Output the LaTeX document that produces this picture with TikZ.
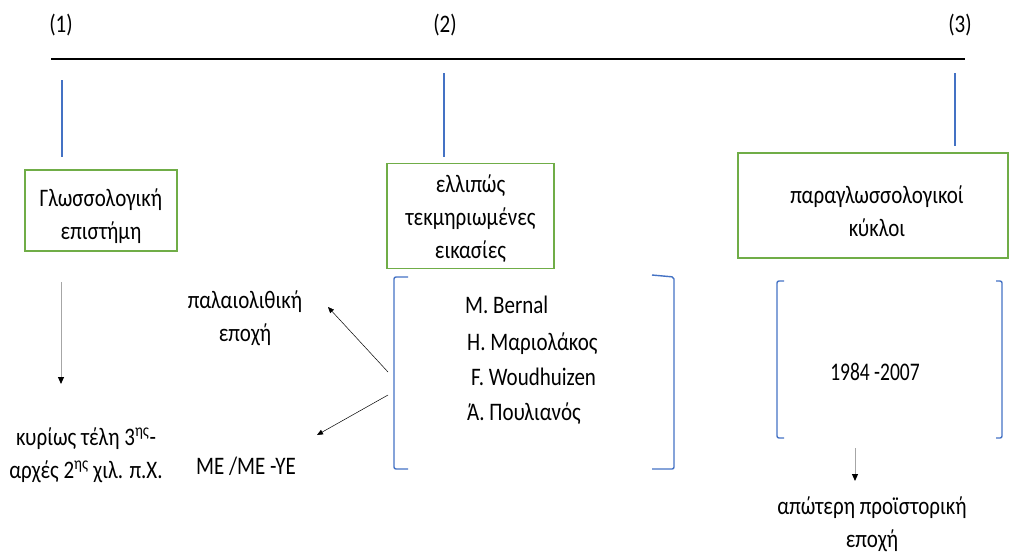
\documentclass[tikz,border=0pt]{standalone}
\usepackage{fontspec}
\usepackage{graphicx}
\setmainfont{Carlito}
\usetikzlibrary{arrows.meta}
\definecolor{oblue}{RGB}{68,114,196}
\definecolor{ogreen}{RGB}{112,173,71}
\newcommand{\stx}[1]{\scalebox{1}[1.2]{\begin{tabular}{@{}c@{}}#1\end{tabular}}}
\begin{document}
\begin{tikzpicture}[x=1pt,y=-1pt,
  every node/.style={inner sep=0pt,font=\fontsize{21}{27.6}\selectfont},
  gbox/.style={draw=ogreen,line width=1.6pt},
  tick/.style={draw=oblue,line width=1.2pt},
  brk/.style={draw=oblue,line width=1.4pt,rounded corners=2pt},
  arr/.style={draw=black,line width=0.5pt,-{Triangle[length=6pt,width=5pt]}},
  garr/.style={draw=gray!70,line width=1pt,-{Triangle[length=7pt,width=6pt,color=black]}}]
\useasboundingbox (0,0) rectangle (1011,557);
% labels
\node (l1) at (61,26) {\stx{(1)}};
\node (l2) at (445,26) {\stx{(2)}};
\node (l3) at (960,26) {\stx{(3)}};
% axis
\coordinate (a0) at (51,59);
\coordinate (a1) at (965,59);
\draw[line width=2pt] (a0) -- (a1);
% ticks
\coordinate (t1a) at (62,80); \coordinate (t1b) at (62,157);
\coordinate (t2a) at (444,73); \coordinate (t2b) at (444,157);
\coordinate (t3a) at (955,73); \coordinate (t3b) at (955,146);
\draw[tick] (t1a) -- (t1b);
\draw[tick] (t2a) -- (t2b);
\draw[tick] (t3a) -- (t3b);
% boxes
\node[gbox,minimum width=152pt,minimum height=81pt] (b1) at (101,210.5) {};
\node (b1t) at (101,216) {\stx{Γλωσσολογική\\επιστήμη}};
\node[gbox,minimum width=167pt,minimum height=105pt] (b2) at (470.5,216) {};
\node (b2t) at (470.5,218.5) {\stx{ελλιπώς\\τεκμηριωμένες\\εικασίες}};
\node[gbox,minimum width=270pt,minimum height=105pt] (b3) at (873,205.5) {};
\node (b3t) at (877,213) {\stx{παραγλωσσολογικοί\\κύκλοι}};
% middle brackets
\draw[brk] (408,277) -- (394,277) -- (394,469) -- (408,469);
\draw[brk] (652,275) -- (674,277) -- (674,469) -- (652,469);
\node[anchor=west] (n1) at (465,307) {\stx{M. Bernal}};
\node[anchor=west] (n2) at (467,344) {\stx{Η. Μαριολάκος}};
\node[anchor=west] (n3) at (471,379) {\stx{F. Woudhuizen}};
\node[anchor=west] (n4) at (467,414) {\stx{Ά. Πουλιανός}};
% right brackets
\draw[brk] (784,281) -- (777,281) -- (777,438) -- (784,438);
\draw[brk] (996,281) -- (1002,281) -- (1002,438) -- (996,438);
\node[font=\fontsize{19.5}{29.5}\selectfont] (yr) at (875,372) {\scalebox{1}[1.3]{1984 -2007}};
% left column
\coordinate (la) at (61,282);
\coordinate (lb) at (61,384);
\draw[garr] (la) -- (lb);
\node (k1) at (86,455) {\stx{κυρίως τέλη 3\textsuperscript{ης}-\\αρχές 2\textsuperscript{ης} χιλ. π.Χ.}};
% middle-left
\node (p1) at (245,318) {\stx{παλαιολιθική\\εποχή}};
\node (me) at (246,468) {\stx{ME /ME -YE}};
\coordinate (s1) at (388,372);
\coordinate (s2) at (388,395);
\coordinate (e1) at (328,307);
\coordinate (e2) at (317,435);
\draw[arr] (s1) -- (e1);
\draw[arr] (s2) -- (e2);
% right arrow
\coordinate (ra) at (855,448);
\coordinate (rb) at (855,481);
\draw[garr] (ra) -- (rb);
\node (ap) at (872,524) {\stx{απώτερη προϊστορική\\εποχή}};
\end{tikzpicture}
\end{document}
